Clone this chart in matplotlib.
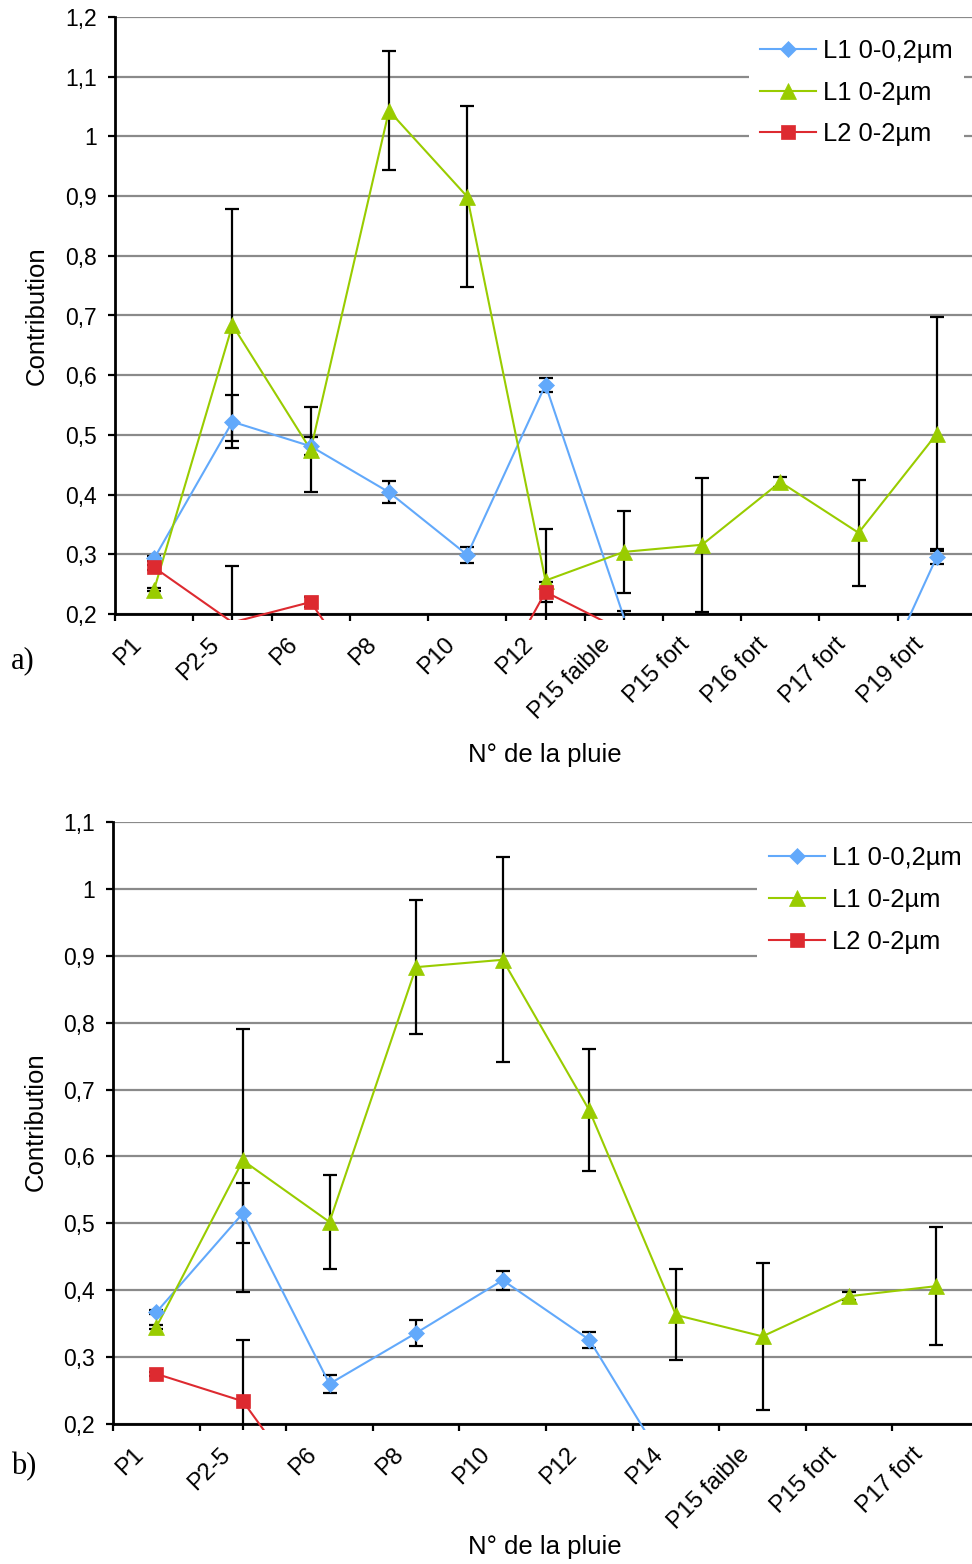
import numpy as np
import matplotlib
matplotlib.use("Agg")
import matplotlib.pyplot as plt
from matplotlib.lines import Line2D
from matplotlib.patches import Rectangle
from matplotlib.ticker import FixedLocator, FuncFormatter
import matplotlib.transforms as mtransforms

nan = np.nan

# ---------------- data : panel a ----------------
cats_a = ["P1", "P2-5", "P6", "P8", "P10", "P12", "P15 faible",
          "P15 fort", "P16 fort", "P17 fort", "P19 fort"]
a_blue = [0.293, 0.522, 0.481, 0.404, 0.299, 0.584, 0.195, nan, nan, 0.01, 0.296]
a_blue_err = [0.004, 0.044, 0.015, 0.018, 0.014, 0.012, 0.010, nan, nan, nan, 0.013]
a_green = [0.241, 0.684, 0.475, 1.043, 0.899, 0.256, 0.304, 0.316, 0.421, 0.336, 0.502]
a_green_err = [0.002, 0.194, 0.071, 0.100, 0.152, 0.087, 0.069, 0.112, 0.008, 0.089, 0.196]
a_red = [0.278, 0.186, 0.220, 0.030, 0.0, 0.237, 0.171, nan, nan, nan, nan]
a_red_err = [0.004, 0.095, 0.008, nan, nan, 0.017, nan, nan, nan, nan, nan]

# ---------------- data : panel b ----------------
cats_b = ["P1", "P2-5", "P6", "P8", "P10", "P12", "P14", "P15 faible",
          "P15 fort", "P17 fort"]
b_blue = [0.367, 0.515, 0.260, 0.336, 0.415, 0.326, 0.114, nan, nan, nan]
b_blue_err = [0.003, 0.045, 0.014, 0.019, 0.014, 0.012, nan, nan, nan, nan]
b_green = [0.345, 0.594, 0.502, 0.883, 0.894, 0.669, 0.363, 0.331, 0.391, 0.406]
b_green_err = [0.003, 0.196, 0.071, 0.100, 0.153, 0.091, 0.068, 0.110, 0.006, 0.088]
b_red = [0.275, 0.234, 0.055, nan, nan, nan, nan, nan, nan, nan]
b_red_err = [0.003, 0.092, nan, nan, nan, nan, nan, nan, nan, nan]

series_labels = ["L1 0-0,2µm", "L1 0-2µm", "L2 0-2µm"]
y_label = "Contribution"
x_label = "N° de la pluie"

plt.rcParams['font.family'] = ['Liberation Sans', 'DejaVu Sans']

W, H = 972, 1564
fig = plt.figure(figsize=(W / 100, H / 100), dpi=100)

BLUE = '#62A9FB'
GREEN = '#99CC00'
RED = '#DD2A30'
GRID = '#8A8A8A'
STYLES = [(BLUE, 'D', 8.3), (GREEN, '^', 11), (RED, 's', 9.8)]


def fmt(v, p):
    s = f"{round(v, 1):.1f}"
    if s.endswith(".0"):
        s = s[:-2]
    return s.replace('.', ',')


def px_rect(left, right, top, bottom):
    return [left / W, 1 - bottom / H, (right - left) / W, (bottom - top) / H]


def panel(rect_px, cats, blue, blue_e, green, green_e, red, red_e, ymax,
          leg_xy, tag, tag_xy, ylab_xy, xlab_xy):
    ax = fig.add_axes(px_rect(*rect_px))
    n = len(cats)
    x = np.arange(n)
    ax.set_xlim(-0.5, n - 0.5)
    ax.set_ylim(0.2, ymax)
    yt = np.round(np.arange(0.2, ymax + 0.001, 0.1), 1)
    ax.yaxis.set_major_locator(FixedLocator(yt))
    ax.yaxis.set_major_formatter(FuncFormatter(fmt))
    ax.yaxis.grid(True, color=GRID, lw=1.6)
    ax.set_axisbelow(True)
    for s in ['top', 'right']:
        ax.spines[s].set_visible(False)
    for s in ['left', 'bottom']:
        ax.spines[s].set_linewidth(2)
        ax.spines[s].set_color('black')
    ax.tick_params(axis='y', direction='out', length=5, width=1.6, pad=8,
                   labelsize=16.5)
    ax.set_xticks(x)
    ax.set_xticklabels(cats, rotation=45, ha='right', va='top',
                       rotation_mode='anchor', fontsize=17)
    ax.tick_params(axis='x', which='major', length=0, pad=14)
    ax.set_xticks(np.arange(-0.5, n, 1.0), minor=True)
    ax.tick_params(axis='x', which='minor', direction='out', length=5, width=1.6)
    off = mtransforms.ScaledTranslation(-24 / 100, 0, fig.dpi_scale_trans)
    for lab in ax.get_xticklabels():
        lab.set_transform(lab.get_transform() + off)

    hpx = rect_px[3] - rect_px[2]
    ext = 6.0 / hpx
    clip = Rectangle((0, -ext), 1, 1 + ext, transform=ax.transAxes,
                     fill=False, visible=False)
    ax.add_patch(clip)

    handles = []
    for (vals, errs), (col, mk, ms) in zip([(blue, blue_e), (green, green_e), (red, red_e)], STYLES):
        v = np.array(vals, dtype=float)
        e = np.array(errs, dtype=float)
        cont = ax.errorbar(x, v, yerr=e, fmt='none', ecolor='black',
                           elinewidth=1.6, capsize=4.7, capthick=1.6, zorder=2.5)
        for art in list(cont.lines[1]) + list(cont.lines[2]):
            art.set_clip_path(clip)
        ln, = ax.plot(x, v, color=col, lw=1.5, zorder=3)
        ln.set_clip_path(clip)
        mask = v >= 0.2
        ax.plot(x[mask], v[mask], ls='none', marker=mk, ms=ms, color=col,
                mec=col, mew=0.5, zorder=4)
        handles.append(Line2D([], [], color=col, lw=1.5, marker=mk, ms=ms,
                              mec=col, mew=0.5))

    leg = ax.legend(handles, series_labels, loc='upper left',
                    bbox_to_anchor=leg_xy, borderaxespad=0, frameon=True,
                    fancybox=False, edgecolor='none', facecolor='white',
                    framealpha=1, fontsize=18.4, handlelength=2.19,
                    handletextpad=0.27, labelspacing=0.7, borderpad=0.45)
    leg.set_zorder(6)

    fig.text(tag_xy[0] / W, 1 - tag_xy[1] / H, tag, family='Liberation Serif',
             fontsize=22, ha='center', va='center')
    fig.text(ylab_xy[0] / W, 1 - ylab_xy[1] / H, y_label, rotation=90,
             fontsize=18.5, ha='center', va='center')
    fig.text(xlab_xy[0] / W, 1 - xlab_xy[1] / H, x_label,
             fontsize=18.5, ha='center', va='center')
    return ax


panel((115, 976, 17, 614), cats_a, a_blue, a_blue_err, a_green, a_green_err,
      a_red, a_red_err, 1.2, (0.736, 0.983), "a)", (23, 661), (37, 316), (545, 755))
panel((113, 979, 822, 1424), cats_b, b_blue, b_blue_err, b_green, b_green_err,
      b_red, b_red_err, 1.1, (0.744, 0.979), "b)", (24, 1467), (36, 1122), (545, 1547))

fig.savefig("out.png", dpi=100)
